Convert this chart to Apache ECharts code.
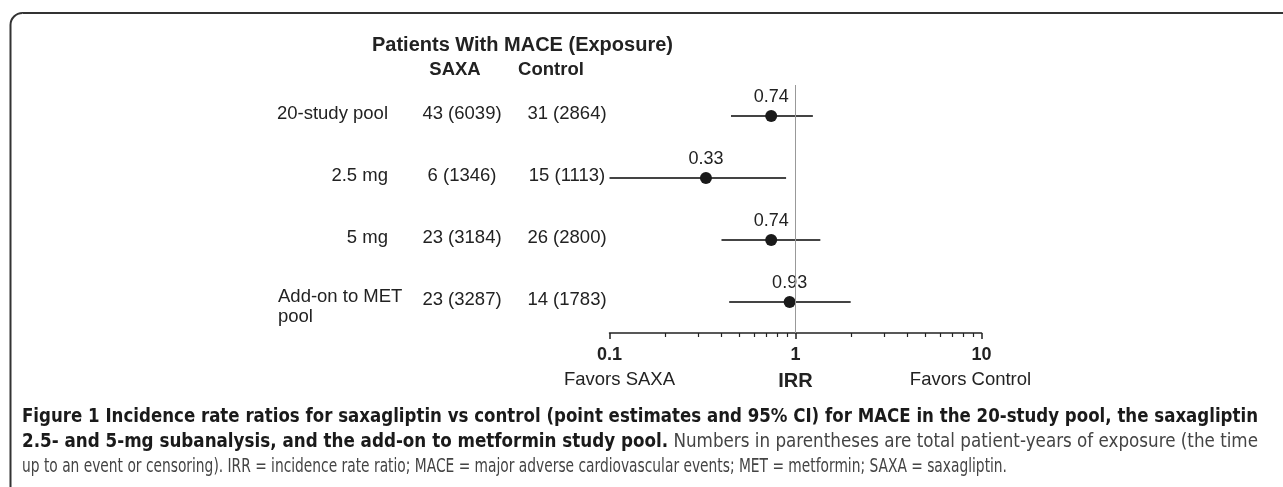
<!DOCTYPE html>
<html>
<head>
<meta charset="utf-8">
<title>IRR forest plot</title>
<script src="https://cdn.jsdelivr.net/npm/echarts@6/dist/echarts.min.js"></script>
<style>
  html, body { margin: 0; padding: 0; background: #fff; }
  #main { width: 1283px; height: 487px; }
</style>
</head>
<body>
<div id="main"></div>
<script>
// rows of the forest plot
const studies = ['20-study pool', '2.5 mg', '5 mg', 'Add-on to MET\npool'];
const saxaCounts = ['43 (6039)', '6 (1346)', '23 (3184)', '23 (3287)'];
const controlCounts = ['31 (2864)', '15 (1113)', '26 (2800)', '14 (1783)'];
// incidence rate ratio and 95% CI
const irr = [0.74, 0.33, 0.74, 0.93];
const ciLow = [0.45, 0.10, 0.40, 0.44];
const ciHigh = [1.24, 0.89, 1.36, 1.98];
// x axis ticks
const majorTicks = [0.1, 1, 10];
const minorTicks = [0.2, 0.3, 0.4, 0.5, 0.6, 0.7, 0.8, 0.9, 2, 3, 4, 5, 6, 7, 8, 9];

const FONT = "'Liberation Sans', Arial, Helvetica, sans-serif";
const CAP_FONT = "'Liberation Sans Narrow', 'DejaVu Sans Condensed', sans-serif";
const INK = '#222';

let chart = echarts.init(document.getElementById('main'));

let option = {
  animation: false,
  grid: { left: 609.5, right: 301.5, top: 85, height: 248 },
  xAxis: [
    {
      type: 'log', logBase: 10, min: 0.1, max: 10,
      axisLine: { show: true, onZero: false, lineStyle: { color: INK, width: 1.5 } },
      axisTick: { show: true, length: 6, lineStyle: { color: INK, width: 1.5 } },
      axisLabel: {
        margin: 13,
        formatter: v => String(+(+v).toPrecision(3)),
        color: INK, fontFamily: FONT, fontWeight: 'bold', fontSize: 18
      },
      splitLine: { show: false },
      name: 'IRR', nameLocation: 'middle', nameGap: 38,
      nameTextStyle: { color: INK, fontFamily: FONT, fontWeight: 'bold', fontSize: 20 }
    },
    {
      // minor ticks only
      type: 'log', logBase: 10, min: 0.1, max: 10, position: 'bottom',
      axisLine: { show: false, onZero: false },
      axisTick: { show: true, customValues: minorTicks, length: 4, lineStyle: { color: INK, width: 1.2 } },
      axisLabel: { show: false },
      splitLine: { show: false }
    }
  ],
  yAxis: {
    type: 'category', data: studies, inverse: true,
    axisLine: { show: false }, axisTick: { show: false }, axisLabel: { show: false },
    splitLine: { show: false }
  },
  series: [
    {
      type: 'custom',
      encode: { x: [0, 1], y: 2 },
      data: studies.map((s, i) => [ciLow[i], ciHigh[i], i]),
      renderItem: function (params, api) {
        let a = api.coord([api.value(0), api.value(2)]);
        let b = api.coord([api.value(1), api.value(2)]);
        return {
          type: 'line',
          shape: { x1: a[0], y1: a[1], x2: b[0], y2: b[1] },
          style: { stroke: '#444', lineWidth: 1.8 }
        };
      },
      z: 2
    },
    {
      type: 'scatter',
      data: irr.map((v, i) => [v, i]),
      symbolSize: 12,
      itemStyle: { color: '#1a1a1a', opacity: 1 },
      label: {
        show: true, position: 'top', distance: 4,
        formatter: p => p.value[0].toFixed(2),
        color: INK, fontFamily: FONT, fontSize: 18
      },
      markLine: {
        silent: true, symbol: 'none', label: { show: false },
        lineStyle: { color: '#999', type: 'solid', width: 1 },
        data: [{ xAxis: 1 }]
      },
      z: 3
    }
  ]
};
chart.setOption(option);

// left-hand table and captions, positioned from the category axis
let graphic = [];
graphic.push({
  type: 'rect', silent: true,
  shape: { x: 10.5, y: 13, width: 1400, height: 600, r: [12, 0, 0, 0] },
  style: { fill: 'none', stroke: '#333', lineWidth: 2 }
});
const txt = (x, y, text, extra) => ({
  type: 'text', x: x, y: y,
  style: Object.assign({ text: text, fill: INK, font: '18.5px ' + FONT, textAlign: 'center', textVerticalAlign: 'middle' }, extra || {})
});
graphic.push(txt(372, 45, 'Patients With MACE (Exposure)', { font: 'bold 20px ' + FONT, textAlign: 'left' }));
graphic.push(txt(455, 70, 'SAXA', { font: 'bold 18.5px ' + FONT }));
graphic.push(txt(551, 70, 'Control', { font: 'bold 18.5px ' + FONT }));

studies.forEach((s, i) => {
  let y = chart.convertToPixel({ yAxisIndex: 0 }, i);
  if (s.indexOf('\n') >= 0) {
    graphic.push(txt(278, y - 15, s, { textAlign: 'left', textVerticalAlign: 'top', lineHeight: 20 }));
  } else {
    graphic.push(txt(388, y - 2, s, { textAlign: 'right' }));
  }
  graphic.push(txt(462, y - 2, saxaCounts[i]));
  graphic.push(txt(567, y - 2, controlCounts[i]));
});

let xLo = chart.convertToPixel({ xAxisIndex: 0 }, 0.1);
let xHi = chart.convertToPixel({ xAxisIndex: 0 }, 10);
graphic.push(txt(xLo + 10, 380, 'Favors SAXA'));
graphic.push(txt(xHi - 11, 380, 'Favors Control'));

// figure caption, squeezed horizontally to the width of the original lines
const capLines = [
  [['b', 'Figure 1 Incidence rate ratios for saxagliptin vs control (point estimates and 95% CI) for MACE in the 20-study pool, the saxagliptin']],
  [['b', '2.5- and 5-mg subanalysis, and the add-on to metformin study pool.'], ['n', ' Numbers in parentheses are total patient-years of exposure (the time']],
  [['n', 'up to an event or censoring). IRR = incidence rate ratio; MACE = major adverse cardiovascular events; MET = metformin; SAXA = saxagliptin.']]
];
const capWidth = [1236, 1236, 985];
const capFonts = { b: 'bold 19px ' + CAP_FONT, n: '19px ' + CAP_FONT };
const capColors = { b: '#1a1a1a', n: '#444' };
const ctx = document.createElement('canvas').getContext('2d');
capLines.forEach((parts, k) => {
  let w = 0;
  parts.forEach(p => { ctx.font = capFonts[p[0]]; w += ctx.measureText(p[1]).width; });
  let sx = capWidth[k] / w;
  let text = parts.map(p => '{' + p[0] + '|' + p[1] + '}').join('');
  graphic.push({
    type: 'text', x: 22, y: 417 + 25 * k, scaleX: sx,
    style: {
      text: text, textAlign: 'left', textVerticalAlign: 'middle', font: capFonts.n,
      rich: {
        b: { font: capFonts.b, fill: capColors.b, color: capColors.b },
        n: { font: capFonts.n, fill: capColors.n, color: capColors.n }
      }
    }
  });
});

chart.setOption({ graphic: graphic });
</script>
</body>
</html>
